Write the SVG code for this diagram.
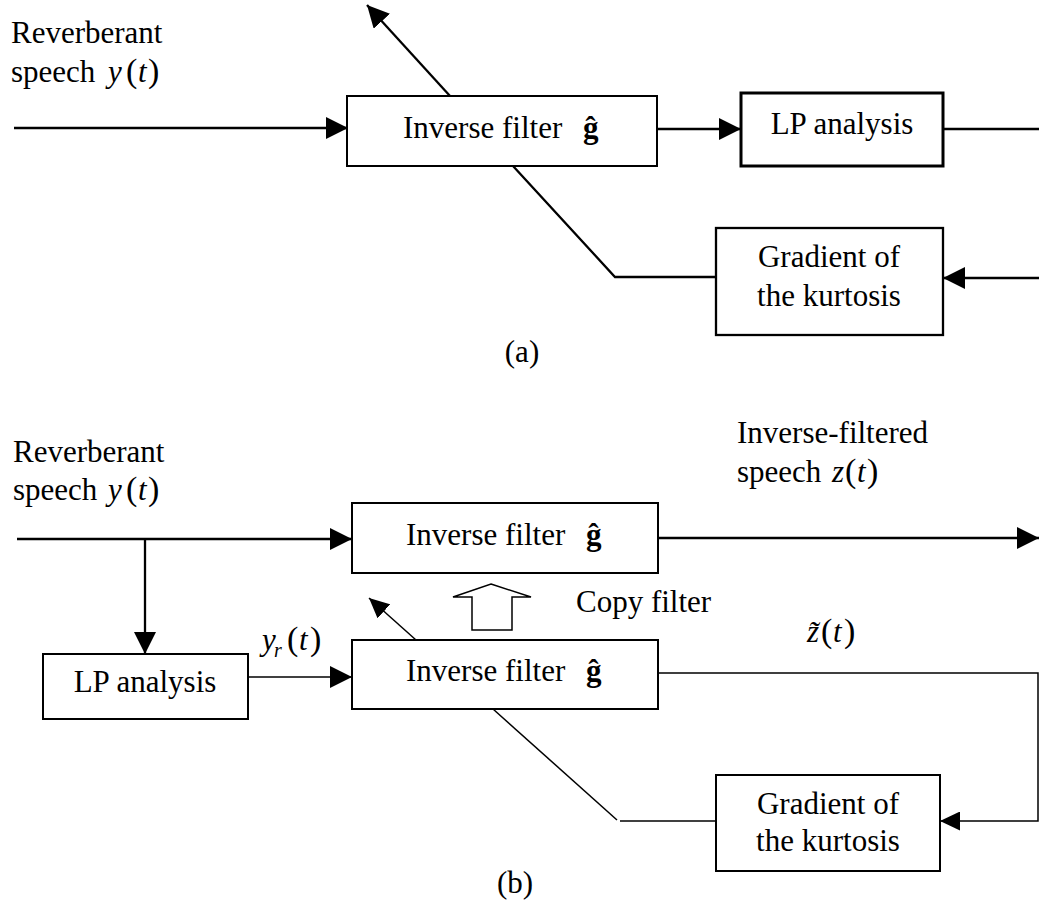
<svg xmlns="http://www.w3.org/2000/svg" width="1039" height="904" viewBox="0 0 1039 904">
<style>
text{font-family:"Liberation Serif","Times New Roman",serif;font-size:31px;fill:#000}
.it{font-style:italic}
.b{font-weight:bold}
.p{font-size:34px}
.box{fill:#fff;stroke:#000;stroke-width:2}
.thk{fill:none;stroke:#000;stroke-width:2.3}
.thn{fill:none;stroke:#000;stroke-width:1.5}
.c{text-anchor:middle}
</style>
<defs>
<marker id="ah" markerUnits="userSpaceOnUse" markerWidth="22" markerHeight="22" viewBox="0 0 22 22" refX="22" refY="11" orient="auto"><path d="M0,0 L22,11 L0,22 z" fill="#000"/></marker>
<marker id="as" markerUnits="userSpaceOnUse" markerWidth="20" markerHeight="19" viewBox="0 0 20 19" refX="20" refY="9.5" orient="auto"><path d="M0,0 L20,9.5 L0,19 z" fill="#000"/></marker>
</defs>

<g id="connectors">
<!-- (a) -->
<path class="thk" d="M14,128 H348" marker-end="url(#ah)"/>
<path class="thk" d="M450,96 L367,5" marker-end="url(#ah)"/>
<path class="thk" d="M513,166 L615,277 H716"/>
<path class="thk" d="M657,129 H741" marker-end="url(#ah)"/>
<path class="thk" d="M943,129 H1039"/>
<path class="thk" d="M1039,278 H943" marker-end="url(#ah)"/>
<!-- (b) -->
<path class="thk" d="M17,539 H352" marker-end="url(#ah)"/>
<path class="thk" d="M145,539 V654" marker-end="url(#ah)"/>
<path class="thn" d="M248,677 H352" marker-end="url(#ah)"/>
<path class="thk" d="M658,538 H1039" marker-end="url(#ah)"/>
<path class="thn" d="M416,640 L369,598" marker-end="url(#as)"/>
<path class="thn" d="M493,709 L617,820"/>
<path class="thn" d="M620,821 H716"/>
<path class="thn" d="M658,673 H1038 V821 H940" marker-end="url(#as)"/>
<polygon class="thn" fill="#fff" points="491,584 531,597 512,597 512,630 472,630 472,597 453,597"/>
</g>

<g id="label-a-input">
<text x="11" y="43">Reverberant</text>
<text x="11" y="82">speech</text>
<text class="it" x="108" y="82">y</text>
<text class="p" x="126" y="82">(</text>
<text class="it" x="138" y="82">t</text>
<text class="p" x="148" y="82">)</text>
</g>
<g id="node-a-inverse">
<rect class="box" x="347" y="96" width="310" height="70"/>
<text x="403" y="138">Inverse filter</text>
<text class="b" x="583" y="138">ĝ</text>
</g>
<g id="node-a-lp">
<rect class="box" x="741" y="93" width="202" height="73" style="stroke-width:3"/>
<text class="c" x="842" y="134">LP analysis</text>
</g>
<g id="node-a-gradient">
<rect class="box" x="716" y="228" width="227" height="107" style="stroke-width:2.3"/>
<text class="c" x="829" y="267">Gradient of</text>
<text class="c" x="829" y="306">the kurtosis</text>
</g>
<text id="caption-a" class="c" x="522" y="362">(a)</text>

<g id="label-b-input">
<text x="13" y="462">Reverberant</text>
<text x="13" y="500">speech</text>
<text class="it" x="108" y="500">y</text>
<text class="p" x="126" y="500">(</text>
<text class="it" x="138" y="500">t</text>
<text class="p" x="148" y="500">)</text>
</g>
<g id="label-b-output">
<text x="737" y="443">Inverse-filtered</text>
<text x="737" y="482">speech</text>
<text class="it" x="832" y="482">z</text>
<text class="p" x="845" y="482">(</text>
<text class="it" x="857" y="482">t</text>
<text class="p" x="867" y="482">)</text>
</g>
<g id="node-b-inverse-top">
<rect class="box" x="352" y="503" width="306" height="70"/>
<text x="406" y="545">Inverse filter</text>
<text class="b" x="586" y="545">ĝ</text>
</g>
<text id="label-copy" x="576" y="612">Copy filter</text>
<g id="node-b-lp">
<rect class="box" x="43" y="654" width="205" height="65"/>
<text class="c" x="145" y="692">LP analysis</text>
</g>
<g id="label-yr">
<text class="it" x="262" y="650">y</text>
<text class="it" x="274" y="657" style="font-size:20px">r</text>
<text class="p" x="287" y="650">(</text>
<text class="it" x="299" y="650">t</text>
<text class="p" x="310" y="650">)</text>
</g>
<g id="node-b-inverse-bottom">
<rect class="box" x="352" y="640" width="306" height="69"/>
<text x="406" y="681">Inverse filter</text>
<text class="b" x="586" y="681">ĝ</text>
</g>
<g id="label-ztilde">
<text class="it" x="807" y="642">z̃</text>
<text class="p" x="821" y="642">(</text>
<text class="it" x="833" y="642">t</text>
<text class="p" x="844" y="642">)</text>
</g>
<g id="node-b-gradient">
<rect class="box" x="716" y="775" width="224" height="96"/>
<text class="c" x="828" y="814">Gradient of</text>
<text class="c" x="828" y="851">the kurtosis</text>
</g>
<text id="caption-b" class="c" x="515" y="893">(b)</text>
</svg>
